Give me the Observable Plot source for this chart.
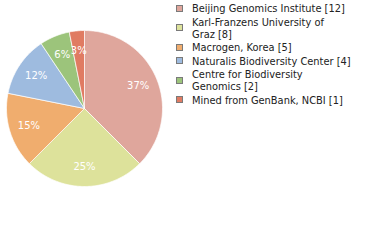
<!DOCTYPE html>
<html><head><meta charset="utf-8">
<script src="https://cdn.jsdelivr.net/npm/d3@7"></script>
<script src="https://cdn.jsdelivr.net/npm/@observablehq/plot@0.6"></script>
<style>
body{margin:0;background:#fff;font-family:"DejaVu Sans",sans-serif;}
#wrap{position:relative;width:380px;height:240px;}
#legend{position:absolute;left:176px;top:3px;width:200px;font-size:9.85px;color:#222;}
.item{display:flex;align-items:center;margin-bottom:1.5px;}
.sw{width:5px;height:5px;border:1px solid #7a7a7a;margin-right:9px;flex:none;position:relative;top:-1px;}
.lab{line-height:12px;width:180px;white-space:pre-line;}
</style>
</head><body>
<div id="wrap"><div id="chart"></div><div id="legend"></div></div>
<script>
const labels = ["Beijing Genomics Institute", "Karl-Franzens University of\nGraz", "Macrogen, Korea", "Naturalis Biodiversity Center", "Centre for Biodiversity\nGenomics", "Mined from GenBank, NCBI"];
const counts = [12, 8, 5, 4, 2, 1];
const colors = ["#dfa69c", "#dde29b", "#f0ad6e", "#9ebbdf", "#9cc47b", "#e07b62"];

const total = d3.sum(counts);
const pie = d3.pie().sort(null).value(d => d)(counts);
const poly = [];
pie.forEach((p, i) => {
  const n = Math.max(4, Math.ceil((p.endAngle - p.startAngle) * 60));
  poly.push({k: i, x: 0, y: 0});
  for (let j = 0; j <= n; j++) {
    const a = p.startAngle + (p.endAngle - p.startAngle) * j / n;
    poly.push({k: i, x: Math.sin(a), y: Math.cos(a)});
  }
  poly.push({k: i, x: 0, y: 0});
});
const lab = pie.map((p, i) => {
  const a = (p.startAngle + p.endAngle) / 2;
  return {x: 0.745 * Math.sin(a), y: 0.745 * Math.cos(a), t: Math.floor(100 * counts[i] / total) + "%"};
});
const cx = 84, cy = 108, r = 78;
const chart = Plot.plot({
  width: 380, height: 240, margin: 0,
  x: {domain: [-1, 1], range: [cx - r, cx + r], axis: null},
  y: {domain: [-1, 1], range: [cy + r, cy - r], axis: null},
  color: {domain: d3.range(labels.length), range: colors},
  marks: [
    Plot.line(poly, {x: "x", y: "y", z: "k", fill: "k", stroke: "white", strokeWidth: 0.7, curve: "linear"}),
    Plot.text(lab, {x: "x", y: "y", text: "t", fill: "white", fontSize: 10, fontFamily: "DejaVu Sans"})
  ]
});
document.getElementById("chart").appendChild(chart);
const lg = document.getElementById("legend");
labels.forEach((l, i) => {
  const d = document.createElement("div"); d.className = "item";
  const s = document.createElement("div"); s.className = "sw"; s.style.background = colors[i];
  const t = document.createElement("div"); t.className = "lab"; t.textContent = l + " [" + counts[i] + "]";
  d.appendChild(s); d.appendChild(t); lg.appendChild(d);
});
</script>
</body></html>
